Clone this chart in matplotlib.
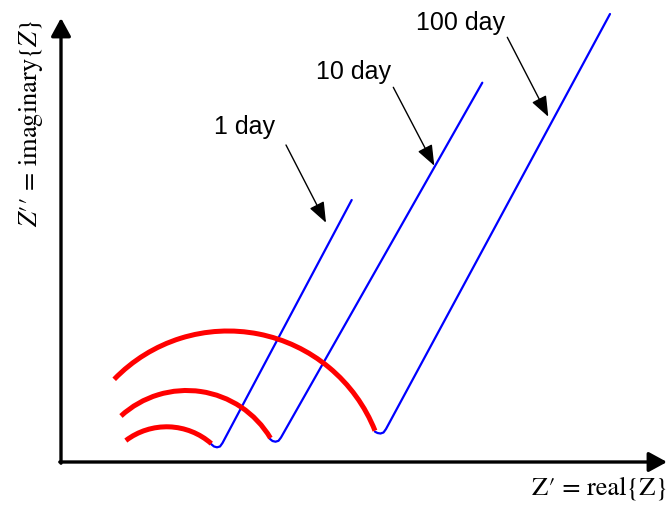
import matplotlib
matplotlib.use("Agg")
import matplotlib.pyplot as plt
from matplotlib.patches import Arc

plt.rcParams['mathtext.fontset'] = 'stix'
plt.rcParams['font.family'] = ['Liberation Sans', 'DejaVu Sans']

# Nyquist sketch: semicircle arcs (charge transfer) + diffusion tails for
# three ageing times. Units are arbitrary, origin at the axes corner.
ages = ['1 day', '10 day', '100 day']

# arcs: centre, radius, start/end angle (deg)
arc_cx = [105.7, 125.7, 167.0]
arc_cy = [-32.4, -26.0, -27.2]
arc_r = [67.6, 97.5, 158.2]
arc_theta1 = [48.7, 30.8, 21.7]
arc_theta2 = [127.2, 132.4, 136.0]

# diffusion tails: small hook at arc end, then straight line up
tail_x = [
    [150.0, 153.0, 156.0, 159.0, 161.5, 290.7],
    [209.0, 211.5, 214.5, 217.5, 220.0, 421.3],
    [314.0, 316.5, 319.5, 322.5, 325.0, 549.0],
]
tail_y = [
    [18.0, 15.5, 14.7, 15.5, 19.0, 262.0],
    [23.0, 21.0, 20.3, 21.2, 24.5, 379.3],
    [30.3, 29.0, 28.5, 29.5, 33.0, 448.0],
]

# label positions and arrow tail/head
label_x = [184.0, 292.0, 399.0]
label_y = [335.0, 390.0, 439.0]
arrow_tail = [(225.0, 317.0), (332.3, 374.7), (446.3, 424.7)]
arrow_head = [(265.0, 239.3), (373.3, 296.3), (487.3, 345.3)]

fig = plt.figure(figsize=(6.68, 5.11), dpi=100)
ax = fig.add_axes([0, 0, 1, 1])
ax.set_xlim(-61, 607)
ax.set_ylim(-49, 462)
ax.axis('off')

# axes with arrow heads
axis_style = dict(arrowstyle='-|>,head_length=0.55,head_width=0.3',
                  color='black', lw=2.4, mutation_scale=20, shrinkA=0, shrinkB=0)
ax.annotate('', xy=(0, 444), xytext=(0, -1.2), arrowprops=axis_style)
ax.annotate('', xy=(606, 0), xytext=(-1.2, 0), arrowprops=axis_style)

for i in range(len(ages)):
    ax.plot(tail_x[i], tail_y[i], color='#0000ff', lw=1.6,
            solid_capstyle='round', solid_joinstyle='round', zorder=2)

for i in range(len(ages)):
    ax.add_patch(Arc((arc_cx[i], arc_cy[i]), 2 * arc_r[i], 2 * arc_r[i],
                     theta1=arc_theta1[i], theta2=arc_theta2[i],
                     color='#ff0000', lw=3.6, zorder=3))

for i in range(len(ages)):
    ax.text(label_x[i], label_y[i], ages[i], fontsize=18,
            ha='center', va='center')
    ax.annotate('', xy=arrow_head[i], xytext=arrow_tail[i],
                arrowprops=dict(arrowstyle='-|>,head_length=0.9,head_width=0.35',
                                color='black', lw=1.0, mutation_scale=14,
                                shrinkA=0, shrinkB=0))

serif = ['STIXGeneral', 'Liberation Serif', 'DejaVu Serif']
ax.text(-30, 339, "$Z$\u2032\u2032 = imaginary{$Z$}", fontsize=19,
        family=serif, rotation=90, ha='center', va='center')
ax.text(607, -26, "Z\u2032 = real{Z}", fontsize=19,
        family=serif, ha='right', va='center')

fig.savefig('out.png', dpi=100)
